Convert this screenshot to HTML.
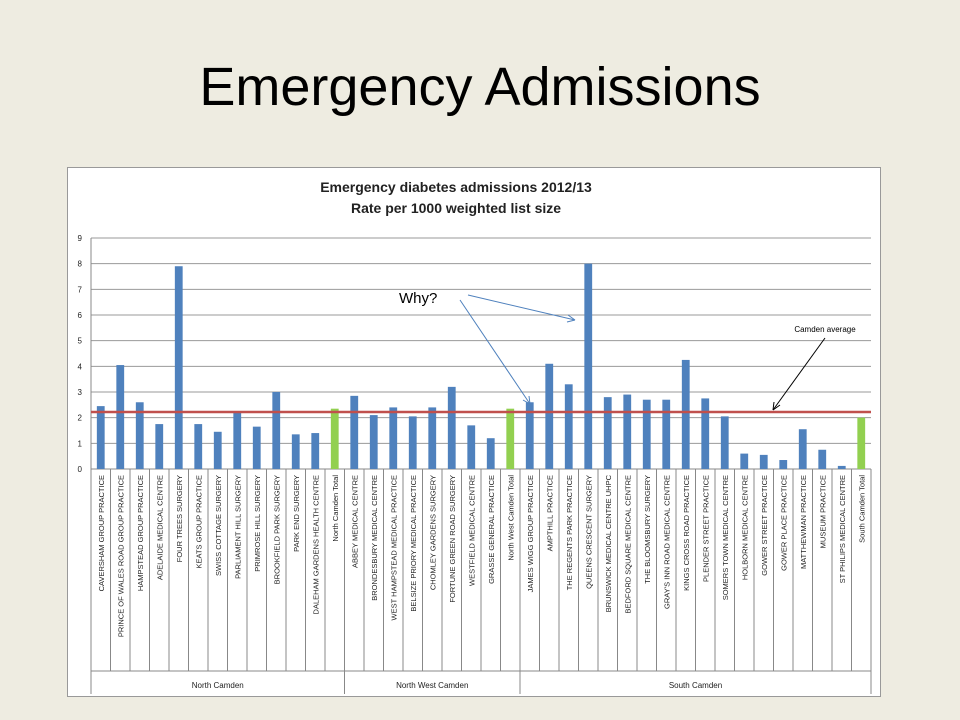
<!DOCTYPE html>
<html><head><meta charset="utf-8"><style>
body{margin:0;width:960px;height:720px;background:#eeece1;overflow:hidden;font-family:"Liberation Sans",sans-serif}
#title{position:absolute;left:0;top:56px;width:960px;text-align:center;font-size:54px;color:#000}
#chart{position:absolute;left:67px;top:167px;width:812px;height:528px;background:#fff;border:1px solid #999}
</style></head><body>
<div id="title">Emergency Admissions</div>
<div id="chart">
<svg id="svg" width="812" height="528" xmlns="http://www.w3.org/2000/svg">
<text x="388" y="24" text-anchor="middle" font-size="14" font-weight="bold" fill="#222">Emergency diabetes admissions 2012/13</text>
<text x="388" y="45" text-anchor="middle" font-size="14" font-weight="bold" fill="#222">Rate per 1000 weighted list size</text>
</svg></div>
<script>
const categories=["CAVERSHAM GROUP PRACTICE","PRINCE OF WALES ROAD GROUP PRACTICE","HAMPSTEAD GROUP PRACTICE","ADELAIDE MEDICAL CENTRE","FOUR TREES SURGERY","KEATS GROUP PRACTICE","SWISS COTTAGE SURGERY","PARLIAMENT HILL SURGERY","PRIMROSE HILL SURGERY","BROOKFIELD PARK SURGERY","PARK END SURGERY","DALEHAM GARDENS HEALTH CENTRE","North Camden Total","ABBEY MEDICAL CENTRE","BRONDESBURY MEDICAL CENTRE","WEST HAMPSTEAD MEDICAL PRACTICE","BELSIZE PRIORY MEDICAL PRACTICE","CHOMLEY GARDENS SURGERY","FORTUNE GREEN ROAD SURGERY","WESTFIELD MEDICAL CENTRE","GRASSE GENERAL PRACTICE","North West Camden Total","JAMES WIGG GROUP PRACTICE","AMPTHILL PRACTICE","THE REGENTS PARK PRACTICE","QUEENS CRESCENT SURGERY","BRUNSWICK MEDICAL CENTRE UHPC","BEDFORD SQUARE MEDICAL CENTRE","THE BLOOMSBURY SURGERY","GRAY'S INN ROAD MEDICAL CENTRE","KINGS CROSS ROAD PRACTICE","PLENDER STREET PRACTICE","SOMERS TOWN MEDICAL CENTRE","HOLBORN MEDICAL CENTRE","GOWER STREET PRACTICE","GOWER PLACE PRACTICE","MATTHEWMAN PRACTICE","MUSEUM PRACTICE","ST PHILIPS MEDICAL CENTRE","South Camden Total"];
const values=[2.45,4.05,2.6,1.75,7.9,1.75,1.45,2.25,1.65,3.0,1.35,1.4,2.35,2.85,2.1,2.4,2.05,2.4,3.2,1.7,1.2,2.35,2.6,4.1,3.3,8.0,2.8,2.9,2.7,2.7,4.25,2.75,2.05,0.6,0.55,0.35,1.55,0.75,0.12,2.0];
const groups=["North Camden","North West Camden","South Camden"];
const groupSizes=[13,9,18];
const yTicks=[0,1,2,3,4,5,6,7,8,9];
const average=2.22;
const svg=document.getElementById('svg');const NS="http://www.w3.org/2000/svg";
const X0=23,X1=803,Y0=301,Y1=70,yMax=9;
const bw=(X1-X0)/categories.length;
const y=v=>Y0-(v/yMax)*(Y0-Y1);
const x=i=>X0+i*bw;
function mk(t,a){const e=document.createElementNS(NS,t);for(const k in a)e.setAttribute(k,a[k]);svg.appendChild(e);return e;}
yTicks.forEach(t=>{
const g=mk('line',{x1:X0,x2:X1,y1:y(t),y2:y(t),stroke:t?'#999':'#888','stroke-width':1});


const tx=mk('text',{x:X0-9,y:y(t)+3,'font-size':8,'text-anchor':'end',fill:'#222'});tx.textContent=t;


});
const ax=mk('line',{x1:X0,x2:X0,y1:Y1,y2:Y0,stroke:'#888'});


const totals=new Set();let c=0;groupSizes.forEach(s=>{c+=s;totals.add(c-1);});
categories.forEach((cat,i)=>{
const b=mk('rect',{x:x(i)+bw*0.3,width:bw*0.4,y:y(values[i]),height:Y0-y(values[i]),fill:totals.has(i)?'#92d050':'#4f81bd'});


const d=mk('line',{x1:x(i),x2:x(i),y1:Y0,y2:Y0+202,stroke:'#888'});


const t=mk('text',{'font-size':7.5,fill:'#222','text-anchor':'end',transform:`translate(${x(i)+bw/2+3},${Y0+6}) rotate(-90)`});
t.textContent=cat;


});
let start=0;
groupSizes.forEach((s,gi)=>{
const l=mk('line',{x1:x(start),x2:x(start),y1:Y0,y2:Y0+225,stroke:'#888'});


const t=mk('text',{x:x(start+s/2),y:Y0+219,'font-size':8,'text-anchor':'middle',fill:'#222'});t.textContent=groups[gi];


start+=s;});
const le=mk('line',{x1:X1,x2:X1,y1:Y0,y2:Y0+225,stroke:'#888'});


mk('line',{x1:X0,x2:X1,y1:Y0+202,y2:Y0+202,stroke:'#888'});
const avg=mk('line',{x1:X0,x2:X1,y1:y(average),y2:y(average),stroke:'#c0504d','stroke-width':2.5});


const at=mk('text',{x:757,y:164,'font-size':8,'text-anchor':'middle',fill:'#000'});at.textContent='Camden average';


mk('line',{x1:757,x2:705,y1:170,y2:242,stroke:'#000'});
mk('path',{d:'M705 242 l1 -8 M705 242 l7 -5',stroke:'#000',fill:'none'});
const wt=mk('text',{x:331,y:135,'font-size':15,fill:'#000'});wt.textContent='Why?';


mk('line',{x1:400,x2:507,y1:127,y2:152,stroke:'#4f81bd'});
mk('path',{d:'M507 152 l-7 -5 M507 152 l-8 2',stroke:'#4f81bd',fill:'none'});
mk('line',{x1:392,x2:462,y1:132,y2:236,stroke:'#4f81bd'});
mk('path',{d:'M462 236 l-1 -8 M462 236 l-7 -4',stroke:'#4f81bd',fill:'none'});
</script>
</body></html>
